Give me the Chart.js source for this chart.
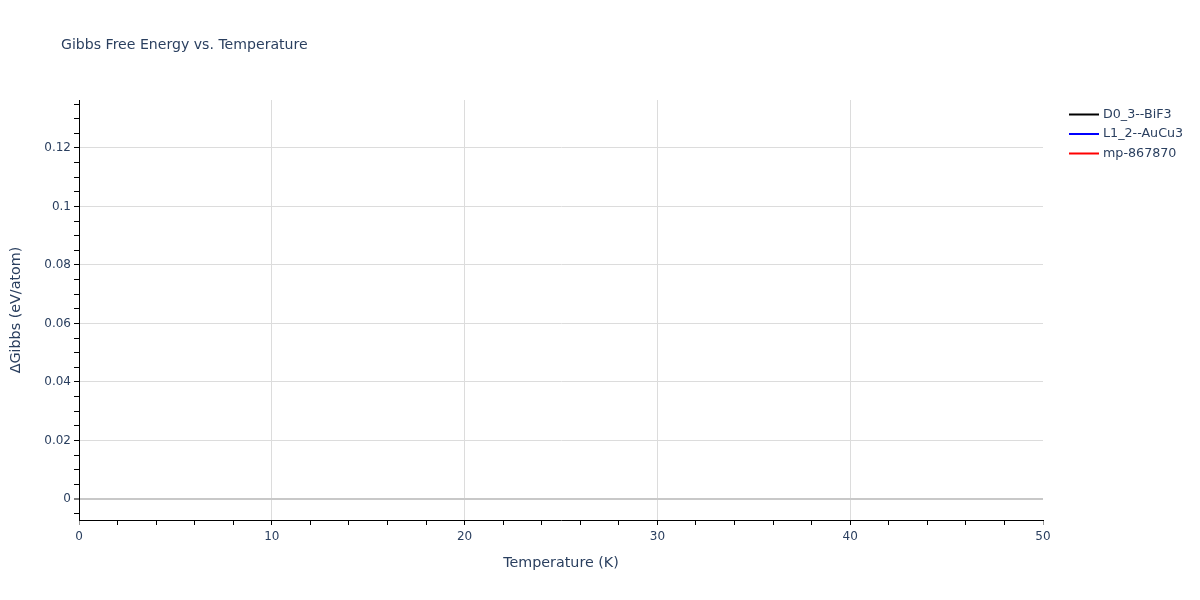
<!DOCTYPE html>
<html>
<head>
<meta charset="utf-8">
<script src="https://cdn.jsdelivr.net/npm/chart.js@4"></script>
<style>
html,body{margin:0;padding:0;background:#fff;}
#wrap{width:1200px;height:600px;position:relative;}
</style>
</head>
<body>
<div id="wrap"><canvas id="c" width="1200" height="600"></canvas></div>
<script>
// ---- data ----
const chartTitle = 'Gibbs Free Energy vs. Temperature';
const xAxisTitle = 'Temperature (K)';
const yAxisTitle = '\u0394Gibbs (eV/atom)';
const seriesNames = ['D0_3--BiF3', 'L1_2--AuCu3', 'mp-867870'];
const seriesColors = ['#000000', '#0000ff', '#ff0000'];
// no line is visible inside the plotted window
const temperatures = [];
const gibbsD03 = [];
const gibbsL12 = [];
const gibbsMp = [];
const xRange = [0, 50];
const yRange = [-0.0072, 0.1364];

const FONT = '"DejaVu Sans", Verdana, sans-serif';
const TXT = '#2a3f5f';

function pts(xs, ys){ return xs.map((x,i)=>({x:x, y:ys[i]})); }

const overlay = {
  id: 'overlay',
  afterDraw(chart){
    const ctx = chart.ctx;
    ctx.save();
    ctx.fillStyle = TXT;
    ctx.font = '14.1px ' + FONT;
    ctx.textBaseline = 'middle';
    ctx.textAlign = 'left';
    ctx.fillText(chartTitle, 61, 45.5);
    ctx.font = '12.7px ' + FONT;
    chart.data.datasets.forEach((ds, i) => {
      const y = 114.5 + i * 19.5;
      ctx.strokeStyle = ds.borderColor;
      ctx.lineWidth = 2;
      ctx.beginPath();
      ctx.moveTo(1069, y);
      ctx.lineTo(1099, y);
      ctx.stroke();
      ctx.fillStyle = TXT;
      ctx.fillText(ds.label, 1103, y);
    });
    ctx.restore();
  }
};

const isMajorX = v => Math.abs(v % 10) < 1e-9;
const isMajorY = v => Math.abs(Math.round(v * 1000) % 20) === 0 && Math.abs(v*1000 - Math.round(v*1000)) < 1e-6;

new Chart(document.getElementById('c'), {
  type: 'line',
  data: {
    datasets: [
      {label: seriesNames[0], data: pts(temperatures, gibbsD03), borderColor: seriesColors[0], backgroundColor: seriesColors[0], borderWidth: 2, pointRadius: 0, fill: false},
      {label: seriesNames[1], data: pts(temperatures, gibbsL12), borderColor: seriesColors[1], backgroundColor: seriesColors[1], borderWidth: 2, pointRadius: 0, fill: false},
      {label: seriesNames[2], data: pts(temperatures, gibbsMp), borderColor: seriesColors[2], backgroundColor: seriesColors[2], borderWidth: 2, pointRadius: 0, fill: false}
    ]
  },
  options: {
    responsive: false,
    animation: false,
    devicePixelRatio: 1,
    layout: {padding: {top: 100, right: 157, bottom: 0, left: 0}},
    plugins: {legend: {display: false}, title: {display: false}, tooltip: {enabled: false}},
    scales: {
      x: {
        type: 'linear',
        min: xRange[0], max: xRange[1],
        afterFit: s => { s.height = 80; },
        border: {display: true, color: '#000', width: 1},
        grid: {
          drawTicks: true,
          tickLength: 5,
          tickWidth: 1,
          color: c => (isMajorX(c.tick.value) && c.tick.value > 0 && c.tick.value < 50) ? '#dcdcdc' : 'rgba(0,0,0,0)',
          tickColor: c => (c.tick.value === 0 || c.tick.value === 50) ? '#999' : '#000'
        },
        ticks: {
          stepSize: 2,
          autoSkip: false,
          maxRotation: 0,
          padding: 5,
          color: TXT,
          font: {family: FONT, size: 12},
          includeBounds: false,
          callback: v => isMajorX(v) ? String(v) : ''
        },
        title: {display: true, text: xAxisTitle, color: TXT, font: {family: FONT, size: 14.3}, padding: {top: 4, bottom: 28}}
      },
      y: {
        type: 'linear',
        min: yRange[0], max: yRange[1],
        afterFit: s => { s.width = 79; },
        border: {display: true, color: '#000', width: 1},
        grid: {
          drawTicks: true,
          tickLength: 5,
          tickWidth: 1,
          lineWidth: c => (Math.abs(c.tick.value) < 1e-9) ? 2 : 1,
          color: c => (Math.abs(c.tick.value) < 1e-9) ? '#c8c8c8' : (isMajorY(c.tick.value) ? '#dcdcdc' : 'rgba(0,0,0,0)'),
          tickColor: '#000'
        },
        ticks: {
          stepSize: 0.005,
          autoSkip: false,
          padding: 3,
          color: TXT,
          font: {family: FONT, size: 12},
          includeBounds: false,
          callback: v => {
            if (!isMajorY(v)) return '';
            const r = Math.round(v * 100) / 100;
            return r === 0 ? '0' : String(r);
          }
        },
        title: {display: true, text: yAxisTitle, color: TXT, font: {family: FONT, size: 14.3}, padding: {top: 8, bottom: 4}}
      }
    }
  },
  plugins: [overlay]
});
</script>
</body>
</html>
